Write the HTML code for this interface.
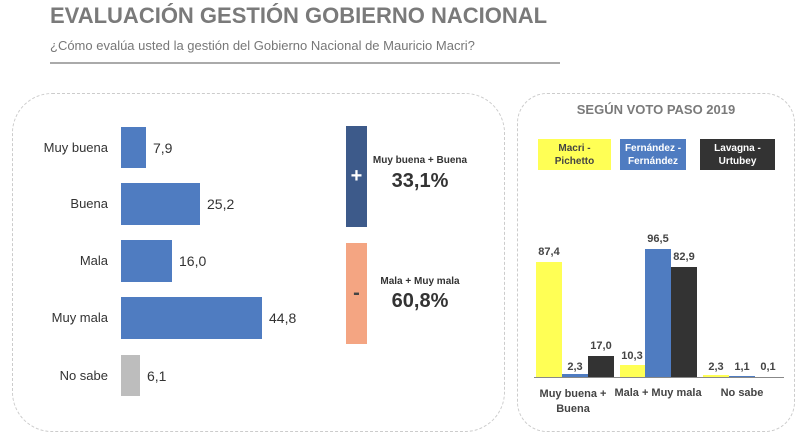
<!DOCTYPE html><html><head><meta charset="utf-8"><style>
body{margin:0;width:800px;height:443px;background:#fff;font-family:"Liberation Sans",sans-serif;overflow:hidden;position:relative}
.a{position:absolute}
.t{font-weight:bold;color:#7a7a7a}
.lab{position:absolute;font-size:13px;color:#333;text-align:right;width:100px;left:8px}
.val{position:absolute;font-size:14px;color:#333}
.bar{position:absolute;background:#4f7cc1}
.v2{position:absolute;font-size:11px;font-weight:bold;color:#444;width:40px;text-align:center}
</style></head><body>
<div class="a t" style="left:50px;top:3px;font-size:22px">EVALUACIÓN GESTIÓN GOBIERNO NACIONAL</div>
<div class="a" style="left:50px;top:38px;font-size:13px;color:#777">¿Cómo evalúa usted la gestión del Gobierno Nacional de Mauricio Macri?</div>
<div class="a" style="left:50px;top:62px;width:510px;height:2px;background:#aaa"></div>
<div class="a" style="left:12px;top:93px;width:491px;height:337px;border:1px dashed #ccc;border-radius:40px"></div>
<div class="a" style="left:517px;top:93px;width:276px;height:337px;border:1px dashed #ccc;border-radius:30px"></div>
<div class="lab" style="top:140px">Muy buena</div><div class="bar" style="left:121px;top:127px;width:25px;height:41px"></div><div class="val" style="left:153px;top:140px">7,9</div>
<div class="lab" style="top:196px">Buena</div><div class="bar" style="left:121px;top:183px;width:79px;height:42px"></div><div class="val" style="left:207px;top:196px">25,2</div>
<div class="lab" style="top:253px">Mala</div><div class="bar" style="left:121px;top:240px;width:51px;height:42px"></div><div class="val" style="left:179px;top:253px">16,0</div>
<div class="lab" style="top:310px">Muy mala</div><div class="bar" style="left:121px;top:297px;width:141px;height:42px"></div><div class="val" style="left:269px;top:310px">44,8</div>
<div class="lab" style="top:368px">No sabe</div><div class="bar" style="left:121px;top:355px;width:19px;height:41px;background:#bdbdbd"></div><div class="val" style="left:147px;top:368px">6,1</div>
<div class="a" style="left:346px;top:126px;width:21px;height:101px;background:#3d5a8a;color:#fff;font-size:20px;font-weight:bold;text-align:center;line-height:101px">+</div>
<div class="a" style="left:346px;top:243px;width:21px;height:101px;background:#f4a582;color:#444;font-size:20px;font-weight:bold;text-align:center;line-height:101px">-</div>
<div class="a" style="left:370px;top:155px;width:100px;text-align:center;font-size:10px;font-weight:bold;color:#333">Muy buena + Buena</div>
<div class="a" style="left:370px;top:170px;width:100px;text-align:center;font-size:20px;font-weight:bold;color:#333">33,1%</div>
<div class="a" style="left:370px;top:276px;width:100px;text-align:center;font-size:10px;font-weight:bold;color:#333">Mala + Muy mala</div>
<div class="a" style="left:370px;top:290px;width:100px;text-align:center;font-size:20px;font-weight:bold;color:#333">60,8%</div>
<div class="a t" style="left:517px;top:102px;width:278px;text-align:center;font-size:13px">SEGÚN VOTO PASO 2019</div>
<div class="a" style="left:538px;top:139px;width:73px;height:31px;background:#ffff55;font-size:10px;font-weight:bold;color:#444;text-align:center;line-height:13px;padding-top:3px;box-sizing:border-box">Macri -<br>Pichetto</div>
<div class="a" style="left:620px;top:139px;width:66px;height:31px;background:#4f7cc1;font-size:10px;font-weight:bold;color:#fff;text-align:center;line-height:13px;padding-top:3px;box-sizing:border-box">Fernández -<br>Fernández</div>
<div class="a" style="left:700px;top:139px;width:75px;height:31px;background:#333;font-size:10px;font-weight:bold;color:#fff;text-align:center;line-height:13px;padding-top:3px;box-sizing:border-box">Lavagna -<br>Urtubey</div>
<div class="a" style="left:534px;top:377px;width:250px;height:1px;background:#888"></div>
<div class="bar" style="left:536px;top:262px;width:26px;height:115px;background:#ffff55"></div><div class="v2" style="left:529px;top:246px">87,4</div>
<div class="bar" style="left:562px;top:374px;width:26px;height:3px"></div><div class="v2" style="left:555px;top:361px">2,3</div>
<div class="bar" style="left:588px;top:356px;width:26px;height:21px;background:#333"></div><div class="v2" style="left:581px;top:340px">17,0</div>
<div class="bar" style="left:620px;top:365px;width:25px;height:12px;background:#ffff55"></div><div class="v2" style="left:612px;top:350px">10,3</div>
<div class="bar" style="left:645px;top:249px;width:26px;height:128px"></div><div class="v2" style="left:638px;top:233px">96,5</div>
<div class="bar" style="left:671px;top:267px;width:26px;height:110px;background:#333"></div><div class="v2" style="left:664px;top:251px">82,9</div>
<div class="bar" style="left:703px;top:375px;width:26px;height:2px;background:#ffff55"></div><div class="v2" style="left:696px;top:361px">2,3</div>
<div class="bar" style="left:729px;top:376px;width:26px;height:1px"></div><div class="v2" style="left:722px;top:361px">1,1</div>
<div class="v2" style="left:748px;top:361px">0,1</div>
<div class="a" style="left:530px;top:387px;width:86px;text-align:center;font-size:11px;font-weight:bold;color:#444;line-height:15px">Muy buena +<br>Buena</div>
<div class="a" style="left:612px;top:387px;width:92px;text-align:center;font-size:11px;font-weight:bold;color:#444">Mala + Muy mala</div>
<div class="a" style="left:700px;top:387px;width:84px;text-align:center;font-size:11px;font-weight:bold;color:#444">No sabe</div>
</body></html>
